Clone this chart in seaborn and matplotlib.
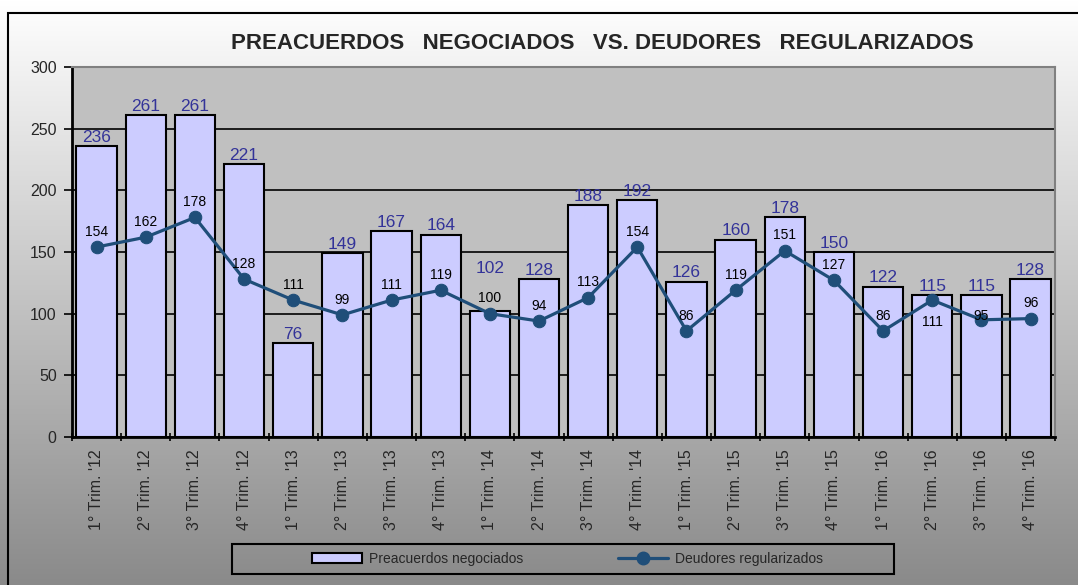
import numpy as np
import pandas as pd
import matplotlib
matplotlib.use("Agg")
import matplotlib.pyplot as plt
import seaborn as sns
from matplotlib.patches import Rectangle, Patch
from matplotlib.lines import Line2D
from matplotlib.colors import LinearSegmentedColormap

trimestres = [
    "1° Trim. '12", "2° Trim. '12", "3° Trim. '12", "4° Trim. '12",
    "1° Trim. '13", "2° Trim. '13", "3° Trim. '13", "4° Trim. '13",
    "1° Trim. '14", "2° Trim. '14", "3° Trim. '14", "4° Trim. '14",
    "1° Trim. '15", "2° Trim. '15", "3° Trim. '15", "4° Trim. '15",
    "1° Trim. '16", "2° Trim. '16", "3° Trim. '16", "4° Trim. '16",
]
preacuerdos = [236, 261, 261, 221, 76, 149, 167, 164, 102, 128,
               188, 192, 126, 160, 178, 150, 122, 115, 115, 128]
deudores = [154, 162, 178, 128, 111, 99, 111, 119, 100, 94,
            113, 154, 86, 119, 151, 127, 86, 111, 95, 96]

titulo = "PREACUERDOS   NEGOCIADOS   VS. DEUDORES   REGULARIZADOS"
etiquetas = ["Preacuerdos negociados", "Deudores regularizados"]

BAR_COLOR = "#ccccff"
LINE_COLOR = "#1f4e79"

sns.set_theme(style="white")
plt.rcParams["font.family"] = ["Liberation Sans", "DejaVu Sans"]

fig = plt.figure(figsize=(10.78, 5.85), dpi=100)

# fondo degradado de la figura
bg = fig.add_axes([0, 0, 1, 1], zorder=-10)
cmap = LinearSegmentedColormap.from_list("bg", ["#8a8a8a", "#ffffff"])
bg.imshow(np.linspace(0, 1, 256).reshape(-1, 1), cmap=cmap, aspect="auto",
          extent=[0, 1, 0, 1], origin="lower")
bg.axis("off")

ax = fig.add_axes([0.0668, 0.253, 0.912, 0.6325])
ax.set_facecolor("#c0c0c0")

df = pd.DataFrame({"trimestre": trimestres, "preacuerdos": preacuerdos,
                   "deudores": deudores})

sns.barplot(data=df, x="trimestre", y="preacuerdos", color=BAR_COLOR,
            saturation=1, edgecolor="black", linewidth=1.5, width=0.82,
            ax=ax, zorder=2)
sns.lineplot(x=np.arange(len(deudores)), y=df["deudores"], color=LINE_COLOR,
             lw=2.3, marker="o", markersize=9, markeredgecolor=LINE_COLOR,
             ax=ax, zorder=4)

# etiquetas de barras (la de 102 va más arriba para no chocar con la línea)
bar_dy = {8: 25}
for i, v in enumerate(preacuerdos):
    ax.annotate(str(v), (i, v), xytext=(0, bar_dy.get(i, 1)),
                textcoords="offset points", ha="center", va="bottom",
                color="#333399", fontsize=12.5, zorder=5)

line_dy = {17: -16, 18: 3}
for i, v in enumerate(deudores):
    ax.annotate(str(v), (i, v), xytext=(0, line_dy.get(i, 11)),
                textcoords="offset points", ha="center", va="center",
                fontsize=10, color="black", zorder=5)

ax.set_ylim(0, 300)
ax.set_yticks(range(0, 301, 50))
ax.set_xlim(-0.5, len(trimestres) - 0.5)
ax.set_xticks(range(len(trimestres)))
ax.set_xticklabels(trimestres, rotation=90, fontsize=11.5)
ax.set_xticks(np.arange(-0.5, len(trimestres), 1), minor=True)
ax.tick_params(axis="x", which="major", length=0, pad=9)
ax.tick_params(axis="x", which="minor", length=6, width=1.2,
               direction="inout", color="black", bottom=True)
ax.tick_params(axis="y", length=6, width=1.2, direction="out",
               color="black", left=True, labelsize=11.5, pad=5)
ax.set_xlabel("")
ax.set_ylabel("")

ax.grid(axis="y", color="black", lw=1.2)
ax.set_axisbelow(True)
for s in ["left", "bottom"]:
    ax.spines[s].set_color("black")
    ax.spines[s].set_linewidth(2)
for s in ["top", "right"]:
    ax.spines[s].set_color("#808080")
    ax.spines[s].set_linewidth(1.5)

fig.text(0.559, 0.926, titulo, ha="center", va="center", fontsize=16,
         fontweight="bold")

handles = [
    Patch(facecolor=BAR_COLOR, edgecolor="black", lw=1.5),
    Line2D([], [], color=LINE_COLOR, lw=2.3, marker="o", markersize=9),
]
fig.legend(handles, etiquetas, loc="center", bbox_to_anchor=(0.5265, 0.0444),
           ncol=2, frameon=False, fontsize=10, handlelength=3.6,
           handletextpad=0.5, columnspacing=6.8)
fig.add_artist(Rectangle((232 / 1078, 1 - 574 / 585), 662 / 1078, 30 / 585,
                         transform=fig.transFigure, fill=False,
                         edgecolor="black", lw=1.5))
fig.add_artist(Rectangle((8 / 1078, -0.05), 1.1, 1 - 13 / 585 + 0.05,
                         transform=fig.transFigure, fill=False,
                         edgecolor="black", lw=1.5))

fig.savefig("out.png", dpi=100)
